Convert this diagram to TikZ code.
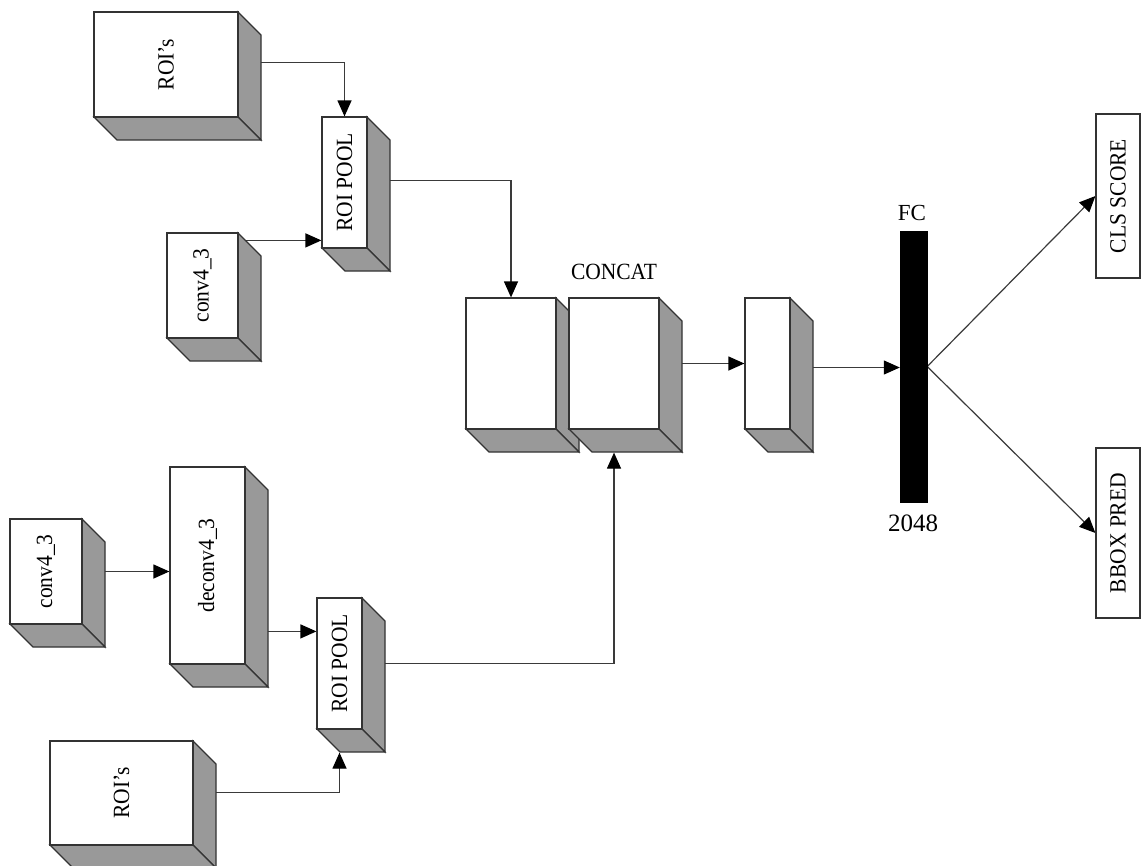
\documentclass[tikz,border=0pt]{standalone}
\usepackage{fontspec}
\setmainfont{Liberation Serif}
\usepackage{graphicx}
\usetikzlibrary{arrows.meta,calc}
\pgfdeclarelayer{back}
\pgfdeclarelayer{bg}
\pgfsetlayers{back,bg,main}
\definecolor{facegrey}{HTML}{999999}
\definecolor{edgegrey}{HTML}{333333}
\definecolor{linegrey}{HTML}{3a3a3a}
\newcommand\tall[1]{\scalebox{1}[1.08]{#1}}
\tikzset{
  boxside/.style={fill=facegrey, draw=edgegrey, line width=1.2pt, line join=miter},
  boxfront/.style={rectangle, fill=white, draw=edgegrey, line width=1.2pt, inner sep=0pt,
    font=\fontsize{21.5}{25}\selectfont},
  conn/.style={draw=linegrey, line width=1.2pt, -{Triangle[length=16pt,width=14pt,color=black]}},
  lbl/.style={inner sep=0pt, font=\fontsize{21.5}{25}\selectfont},
}
% name, x1, y1, x2, y2, text
\newcommand\mycuboid[6]{%
  \path[boxside] (#4,#3) -- (#4+23,#3+23) -- (#4+23,#5+23) -- (#4,#5) -- cycle;
  \path[boxside] (#2,#5) -- (#4,#5) -- (#4+23,#5+23) -- (#2+23,#5+23) -- cycle;
  \node[boxfront, minimum width={#4-#2}, minimum height={#5-#3}] (#1) at ({(#2+#4)/2},{(#3+#5)/2}) {\rotatebox{90}{\tall{#6}}};
}
\begin{document}
\begin{tikzpicture}[x=1pt,y=-1pt]
\useasboundingbox (0,0) rectangle (1145,865);
\begin{pgfonlayer}{back}
\fill[white] (0,0) rectangle (1145,865);
\end{pgfonlayer}

% upper branch
\mycuboid{roisA}{94}{12}{238}{117}{ROI’s}
\mycuboid{poolA}{322}{117}{367}{248}{ROI POOL}
\mycuboid{convA}{167}{233}{238}{338}{conv4\_3}

% concat
\mycuboid{catA}{466}{298}{556}{429}{}
\mycuboid{catB}{569}{298}{659}{429}{}
\node[lbl] (concat) at (614,272) {\tall{CONCAT}};
\mycuboid{red}{745}{298}{790}{429}{}

% fc
\node[rectangle, fill=black, draw=black, inner sep=0pt, minimum width=27, minimum height=271] (fc) at (913.5,366.5) {};
\node[inner sep=0pt, font=\fontsize{23}{27}\selectfont] (fclbl) at (912,213) {FC};
\node[inner sep=0pt, font=\fontsize{25}{29}\selectfont] (fcnum) at (913,523) {2048};

\node[boxfront, minimum width=44, minimum height=164] (cls) at (1118,196) {\rotatebox{90}{\tall{CLS SCORE}}};
\node[boxfront, minimum width=44, minimum height=170] (bbox) at (1118,533) {\rotatebox{90}{\tall{BBOX PRED}}};

% lower branch
\mycuboid{convB}{10}{519}{82}{624}{conv4\_3}
\mycuboid{deconv}{170}{467}{245}{664}{deconv4\_3}
\mycuboid{poolB}{317}{598}{362}{729}{ROI POOL}
\mycuboid{roisB}{50}{741}{193}{845}{ROI’s}

\coordinate (s1) at ($(roisA.north east)+(10,51)$);
\coordinate (s2) at ($(convA.north east)+(0,8)$);
\coordinate (s3) at ($(poolA.north east)+(10,64)$);
\coordinate (s4) at ($(red.east)+(0,4)$);
\coordinate (s5) at ($(deconv.north east)+(0,165)$);
\coordinate (s6) at ($(roisB.north east)+(10,52)$);
\coordinate (t6) at ($(poolB.south)+(0,23)$);
\coordinate (t7) at ($(catB.south)+(0,23)$);

\begin{pgfonlayer}{bg}
  \draw[conn] (s1) -| (poolA.north);
  \draw[conn] (s2) -- (s2 -| poolA.west);
  \draw[conn] (s3) -| (catA.north);
  \draw[conn] (catB.east) -- (red.west);
  \draw[conn] (s4) -- (s4 -| fc.west);
  \draw[conn] (fc.east) -- (cls.west);
  \draw[conn] (fc.east) -- (bbox.west);
  \draw[conn] (convB.east) -- (convB.east -| deconv.west);
  \draw[conn] (s5) -- (s5 -| poolB.west);
  \draw[conn] (s6) -| (t6);
  \draw[conn] (poolB.east) -| (t7);
\end{pgfonlayer}
\end{tikzpicture}
\end{document}
